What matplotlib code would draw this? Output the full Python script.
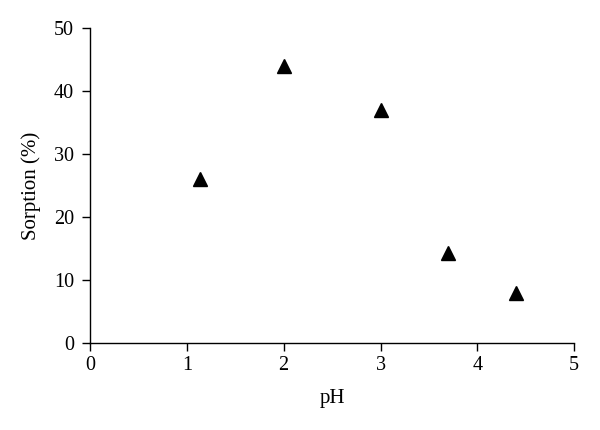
import matplotlib
matplotlib.use("Agg")
import matplotlib.pyplot as plt

# data
ph = [1.14, 2.0, 3.0, 3.7, 4.4]
sorption = [26.1, 44.0, 37.0, 14.3, 7.9]
xticks = [0, 1, 2, 3, 4, 5]
yticks = [0, 10, 20, 30, 40, 50]

plt.rcParams['font.family'] = ['Liberation Serif', 'DejaVu Serif']

fig = plt.figure(figsize=(6, 4.3), dpi=100)
ax = fig.add_axes([0.15, 0.2023, 0.807, 0.7326])

ax.plot(ph, sorption, linestyle='none', marker='^', markersize=10,
        color='black', clip_on=False)

ax.set_xlim(0, 5)
ax.set_ylim(0, 50)
ax.set_xticks(xticks)
ax.set_yticks(yticks)
ax.tick_params(direction='out', length=5.5, width=1, labelsize=14.5)
ax.tick_params(axis='x', pad=4)
ax.tick_params(axis='y', pad=6)

for s in ['top', 'right']:
    ax.spines[s].set_visible(False)
for s in ['left', 'bottom']:
    ax.spines[s].set_linewidth(1)

ax.set_xlabel('pH', fontsize=15, labelpad=10)
ax.set_ylabel('Sorption (%)', fontsize=15, labelpad=9)

fig.savefig('out.png', dpi=100)
